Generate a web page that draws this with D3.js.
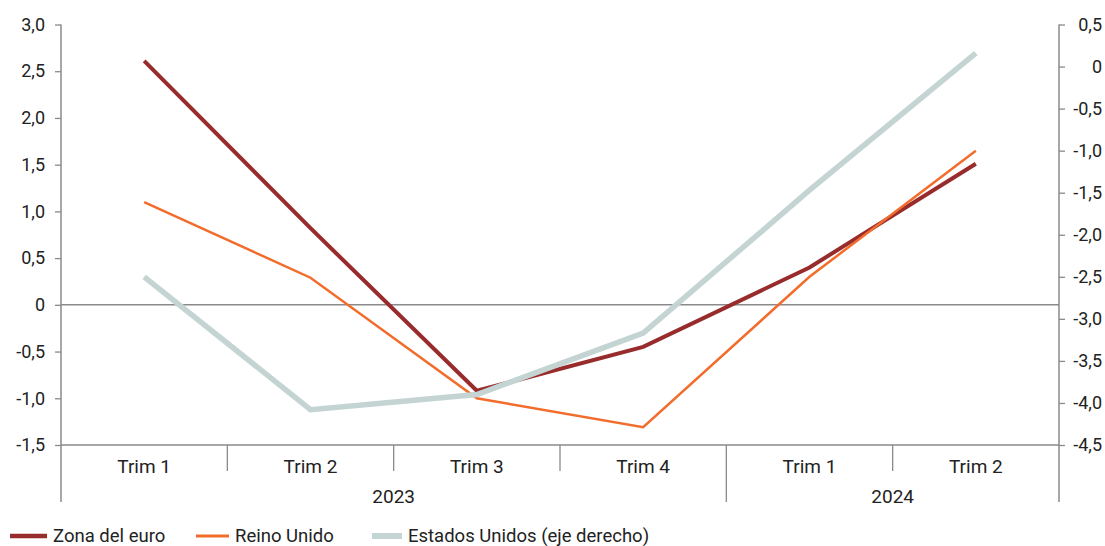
<!DOCTYPE html>
<html><head><meta charset="utf-8">
<script src="https://cdn.jsdelivr.net/npm/d3@7"></script>
<style>
body{margin:0;background:#fff;}
svg text{font-family:"Roboto","Liberation Sans Narrow","DejaVu Sans Condensed",sans-serif;fill:#222;}
</style></head>
<body><svg id="c" width="1105" height="546"></svg>
<script>
const quarters = ["Trim 1","Trim 2","Trim 3","Trim 4","Trim 1","Trim 2"];
const years = [{label:"2023", n:4},{label:"2024", n:2}];
const euro = [2.61, 0.82, -0.92, -0.45, 0.40, 1.51];
const uk = [1.10, 0.29, -1.00, -1.31, 0.30, 1.65];
const us = [-2.50, -4.08, -3.90, -3.17, -1.47, 0.16];
const leftTicks = [3.0,2.5,2.0,1.5,1.0,0.5,0,-0.5,-1.0,-1.5];
const rightTicks = [0.5,0,-0.5,-1.0,-1.5,-2.0,-2.5,-3.0,-3.5,-4.0,-4.5];
const seriesNames = ["Zona del euro","Reino Unido","Estados Unidos (eje derecho)"];
const colors = ["#982c2c","#f26c2c","#c4d4d3"];
const widths = [4,2.5,5.5];

const svg = d3.select("#c");
const L = 61, R = 1059, T = 24.5, B = 445;
const fmt = v => v === 0 ? "0" : d3.format(".1f")(v).replace(".", ",").replace("−","-");
const x = d3.scaleBand().domain(d3.range(quarters.length)).range([L, R]).padding(0);
const yL = d3.scaleLinear().domain([-1.5, 3.0]).range([B, T]);
const yR = d3.scaleLinear().domain([-4.5, 0.5]).range([B, T]);
const axisColor = "#8a8a8a";

// left axis
const gl = svg.append("g").attr("transform", `translate(${L},0)`)
  .call(d3.axisLeft(yL).tickValues(leftTicks).tickFormat(fmt).tickSize(6).tickPadding(10));
gl.select(".domain").remove();
gl.selectAll(".tick line").attr("stroke", axisColor).attr("stroke-width",1.3);
gl.selectAll(".tick text").style("font-size","18px");
// right axis
const gr = svg.append("g").attr("transform", `translate(${R},0)`)
  .call(d3.axisRight(yR).tickValues(rightTicks).tickFormat(fmt).tickSize(6).tickPadding(37));
gr.select(".domain").remove();
gr.selectAll(".tick line").attr("stroke", axisColor).attr("stroke-width",1.3);
gr.selectAll(".tick text").style("font-size","18px").attr("text-anchor","end");

// vertical axis lines
svg.append("line").attr("x1",L).attr("x2",L).attr("y1",T).attr("y2",502).attr("stroke",axisColor).attr("stroke-width",1.5);
svg.append("line").attr("x1",R).attr("x2",R).attr("y1",T).attr("y2",502).attr("stroke",axisColor).attr("stroke-width",1.5);
// zero line
svg.append("line").attr("x1",L).attr("x2",R).attr("y1",yL(0)).attr("y2",yL(0)).attr("stroke",axisColor).attr("stroke-width",1.5);
// bottom line
svg.append("line").attr("x1",L).attr("x2",R).attr("y1",B).attr("y2",B).attr("stroke",axisColor).attr("stroke-width",1.5);

// category separators
let idx = 0;
const yearBounds = [];
years.forEach((yr,i)=>{ yearBounds.push([idx, idx+yr.n]); idx += yr.n; });
for (let i=1;i<quarters.length;i++){
  const xx = x(i);
  const isYear = yearBounds.some(b=>b[0]===i);
  svg.append("line").attr("x1",xx).attr("x2",xx).attr("y1",B).attr("y2",isYear?502:471)
    .attr("stroke",axisColor).attr("stroke-width",1.3);
}
// category labels
svg.selectAll("text.q").data(quarters).enter().append("text").attr("class","q")
  .attr("x",(d,i)=>x(i)+x.bandwidth()/2).attr("y",473).attr("text-anchor","middle")
  .style("font-size","19px").text(d=>d);
// year labels
svg.selectAll("text.yr").data(years).enter().append("text").attr("class","yr")
  .attr("x",(d,i)=>(x(yearBounds[i][0]) + x(yearBounds[i][1]-1)+x.bandwidth())/2).attr("y",503)
  .attr("text-anchor","middle").style("font-size","19px").text(d=>d.label);

// lines
const mk = (ys) => d3.line().x((d,i)=>x(i)+x.bandwidth()/2).y(d=>ys(d));
const data = [[euro,yL],[uk,yL],[us,yR]];
data.forEach((s,k)=>{
  svg.append("path").datum(s[0]).attr("d", mk(s[1])).attr("fill","none")
    .attr("stroke",colors[k]).attr("stroke-width",widths[k]).attr("stroke-linejoin","miter");
});

// legend
const legX = [10, 196, 372];
const legW = [37, 33, 30];
const legTX = [53, 235, 408];
const legSW = [4.5, 3, 6];
seriesNames.forEach((n,k)=>{
  svg.append("line").attr("x1",legX[k]).attr("x2",legX[k]+legW[k]).attr("y1",536).attr("y2",536)
    .attr("stroke",colors[k]).attr("stroke-width",legSW[k]);
  svg.append("text").attr("x",legTX[k]).attr("y",542).style("font-size","18.5px").text(n);
});
</script></body></html>
